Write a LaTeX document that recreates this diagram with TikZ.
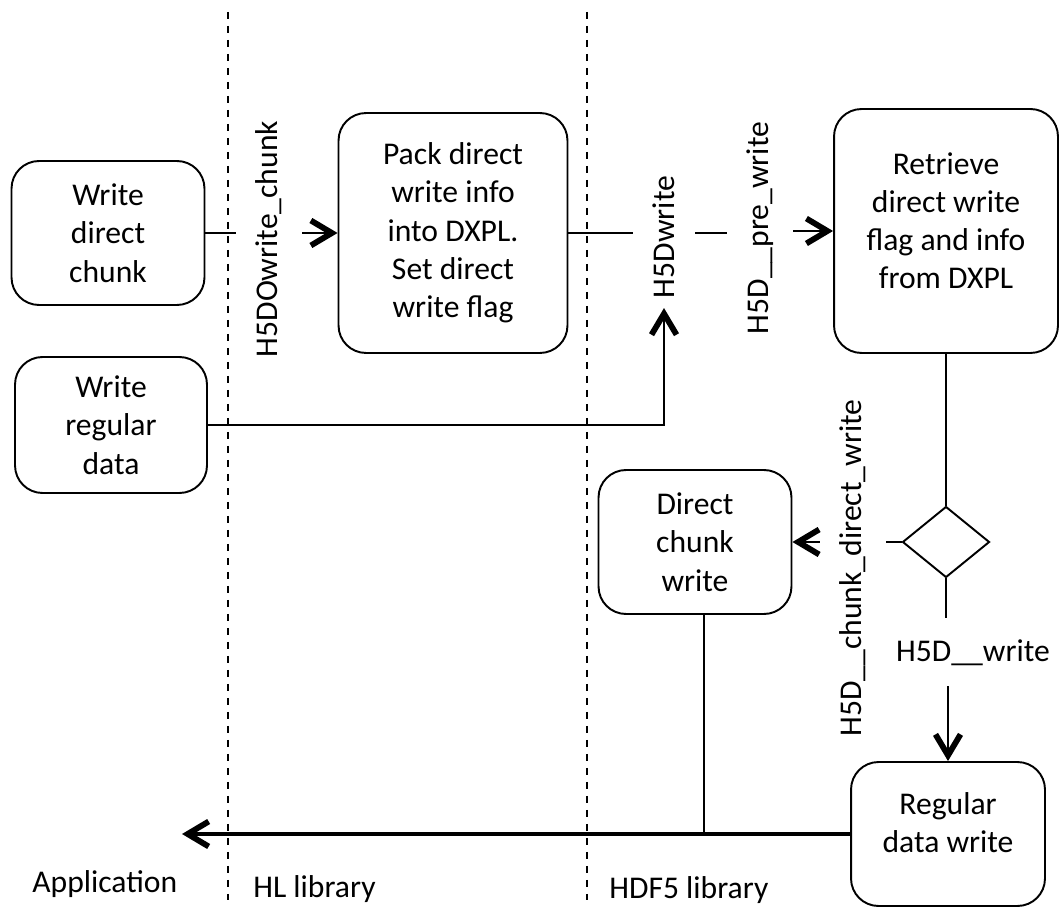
\documentclass[tikz,border=0pt]{standalone}
\usepackage{fontspec}
\setmainfont{Carlito}
\usetikzlibrary{arrows.meta,shapes.geometric}

\tikzset{
  stepbox/.style={draw,line width=1.1pt,rounded corners=0.55cm,align=center,inner sep=0pt},
  fnlabel/.style={rotate=90,inner sep=0pt,outer xsep=0.2cm,outer ysep=0.4cm},
  conn/.style={line width=1.1pt},
  flow/.style={conn,-{Straight Barb[length=0.42cm,width=0.5cm,line width=3.3pt 0]}},
  lane/.style={dash pattern=on 0.14cm off 0.14cm,line width=0.9pt}
}

\begin{document}
\begin{tikzpicture}[x=0.02cm,y=-0.02cm,font=\fontsize{18}{21.8}\selectfont]
% Direct chunk write call path across the three layers (pixel grid, y down).
\useasboundingbox (0,0) rectangle (1060,911);
\draw[lane] (228,12)--(228,900) (587,12)--(587,900);

\node[stepbox,minimum width=3.86cm,minimum height=2.88cm] (wdc) at (108,233) {Write\\direct\\chunk};
\node[stepbox,minimum width=3.84cm,minimum height=2.72cm] (wrd) at (111,425) {Write\\regular\\data};
\node[stepbox,minimum width=4.58cm,minimum height=4.8cm] (pack) at (453,233) {Pack direct\\write info\\into DXPL.\\Set direct\\write flag};
\node[stepbox,minimum width=4.48cm,minimum height=4.88cm] (ret) at (946,231) {Retrieve\\direct write\\flag and info\\from DXPL\\[-10pt]\mbox{}};
\node[draw,diamond,line width=1.1pt,inner sep=0pt,minimum width=1.74cm,minimum height=1.42cm] (dia) at (946,542) {};
\node[stepbox,minimum width=3.86cm,minimum height=2.88cm] (dcw) at (695,542) {Direct\\chunk\\write};
\node[stepbox,minimum width=3.88cm,minimum height=2.88cm] (rdw) at (948,834) {Regular\\data write\\[-9pt]\mbox{}};

\node[fnlabel] (lblA) at (269,239) {H5DOwrite\_chunk};
\node[fnlabel] (lblB) at (664,237) {H5Dwrite};
\node[fnlabel] (lblC) at (760,228) {H5D\_\_pre\_write};
\node[fnlabel] (lblD) at (853,568) {H5D\_\_chunk\_direct\_write};
\node[inner sep=0pt,outer ysep=0.42cm,anchor=base] (lblE) at (973,661) {H5D\_\_write};
\coordinate (appEnd) at (182,834);

\draw[conn] (wdc.east) -- (wdc.east -| lblA.north);
\draw[flow] (lblA.south |- pack.west) -- (pack.west);
\draw[conn] (pack.east) -- (pack.east -| lblB.north);
\draw[conn] (lblB.south |- pack.east) -- (lblC.north |- pack.east);
\draw[flow] (lblC.south |- ret.west) -- (ret.west);
\draw[flow] (wrd.east) -| (lblB.west);
\draw[conn] (ret.south) -- (dia.north);
\draw[conn] (dia.west) -- (dia.west -| lblD.south);
\draw[flow] (dia.west -| lblD.north) -- (dcw.east);
\draw[conn] (dia.south) -- (dia.south |- lblE.north);
\draw[flow] (rdw.north |- lblE.south) -- (rdw.north);
\draw[flow,line width=1.9pt] (rdw.west) -- (appEnd);
\draw[line width=1pt] ([xshift=0.18cm]dcw.south) -- ([xshift=0.18cm]dcw.south |- appEnd);

\node[inner sep=0pt,anchor=base west] (app) at (32,892) {Application};
\node[inner sep=0pt,anchor=base west] (hl) at (253,897) {HL library};
\node[inner sep=0pt,anchor=base west] (hdf) at (609,898) {HDF5 library};
\end{tikzpicture}
\end{document}
